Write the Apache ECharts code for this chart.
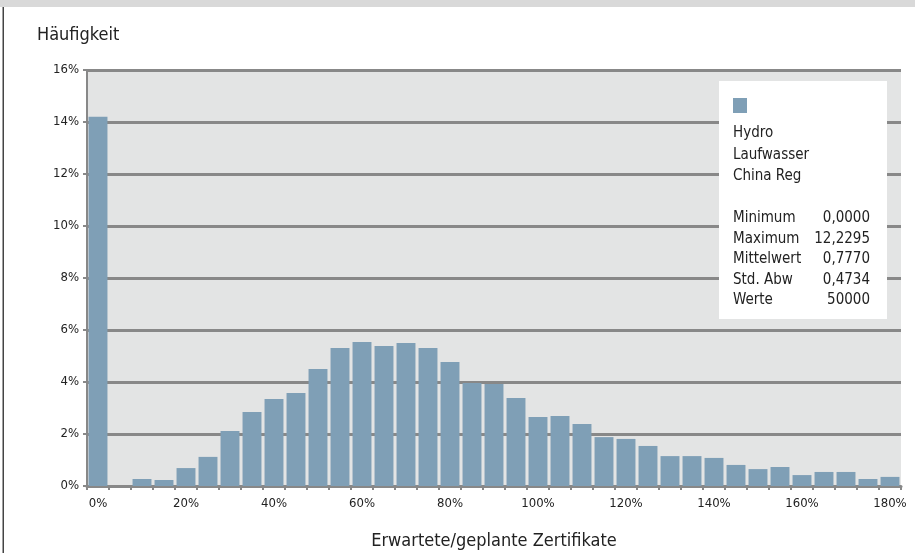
<!DOCTYPE html>
<html>
<head>
<meta charset="utf-8">
<script src="https://cdn.jsdelivr.net/npm/echarts@6/dist/echarts.min.js"></script>
<style>
html,body{margin:0;padding:0;background:#fff;}
#chart{width:915px;height:553px;}
</style>
</head>
<body>
<div id="chart"></div>
<script>
// Data
const categories = ['0%','5%','10%','15%','20%','25%','30%','35%','40%','45%','50%','55%','60%','65%','70%','75%','80%','85%','90%','95%','100%','105%','110%','115%','120%','125%','130%','135%','140%','145%','150%','155%','160%','165%','170%','175%','180%'];
const frequency = [14.2,0,0.27,0.23,0.69,1.12,2.12,2.85,3.35,3.58,4.5,5.31,5.54,5.38,5.5,5.31,4.77,3.96,3.92,3.38,2.65,2.69,2.38,1.88,1.81,1.54,1.15,1.15,1.08,0.81,0.65,0.73,0.42,0.54,0.54,0.27,0.35];
const seriesNameLines = ['Hydro','Laufwasser','China Reg'];
const statLabels = ['Minimum','Maximum','Mittelwert','Std. Abw','Werte'];
const statValues = ['0,0000','12,2295','0,7770','0,4734','50000'];
const yTicks = {min:0, max:16, interval:2};

const FONT = "'Liberation Sans Narrow','DejaVu Sans Condensed','Open Sans',sans-serif";
const chart = echarts.init(document.getElementById('chart'), null, {renderer:'canvas'});

const legendX = 733;
const graphics = [
  {type:'rect', left:0, top:0, shape:{width:915, height:7}, style:{fill:'#d9d9d9'}, silent:true},
  {type:'rect', left:2.5, top:7, shape:{width:1.5, height:546}, style:{fill:'#444'}, silent:true},
  {type:'text', left:37, top:26, style:{text:'Häufigkeit', font:'18px ' + FONT, fill:'#222'}},
  {type:'rect', left:719, top:81, shape:{width:168, height:238}, style:{fill:'#fff'}, z:10},
  {type:'rect', left:733, top:98, shape:{width:14, height:15}, style:{fill:'#7f9fb6'}, z:11}
];
seriesNameLines.forEach((t,i)=>{
  graphics.push({type:'text', left:legendX, top:126 + i*21.5, z:11, style:{text:t, font:'15px ' + FONT, fill:'#222'}});
});
statLabels.forEach((t,i)=>{
  graphics.push({type:'text', left:legendX, top:211 + i*20.5, z:11, style:{text:t, font:'15px ' + FONT, fill:'#222'}});
  graphics.push({type:'text', x:870, y:211 + i*20.5, z:11, style:{text:statValues[i], font:'15px ' + FONT, fill:'#222', align:'right', verticalAlign:'top'}});
});

chart.setOption({
  backgroundColor:'#fff',
  animation:false,
  textStyle:{fontFamily:FONT},
  grid:{left:87, right:14, top:70, bottom:67, show:true, backgroundColor:'#e3e4e4', borderWidth:0, outerBoundsMode:'none', containLabel:false},
  xAxis:{
    type:'category', data:categories, boundaryGap:true,
    name:'Erwartete/geplante Zertifikate', nameLocation:'middle', nameGap:46,
    nameTextStyle:{fontSize:18, color:'#222', fontFamily:FONT},
    axisLine:{lineStyle:{color:'#888', width:3}},
    axisTick:{show:true, interval:0, length:4, lineStyle:{color:'#888', width:2}},
    axisLabel:{interval:3, fontSize:13, color:'#222', margin:11, fontFamily:FONT},
    splitLine:{show:false}
  },
  yAxis:{
    type:'value', min:yTicks.min, max:yTicks.max, interval:yTicks.interval,
    axisLine:{show:true, lineStyle:{color:'#888', width:2}},
    axisTick:{show:true, length:4, lineStyle:{color:'#888', width:2}},
    axisLabel:{formatter:'{value}%', fontSize:13, color:'#222', margin:8, fontFamily:FONT},
    splitLine:{show:true, lineStyle:{color:'#888', width:3}}
  },
  series:[{
    type:'bar', name:'Hydro', data:frequency, barCategoryGap:'14%',
    itemStyle:{color:'#7f9fb6'}
  }],
  graphic:graphics
});
</script>
</body>
</html>
